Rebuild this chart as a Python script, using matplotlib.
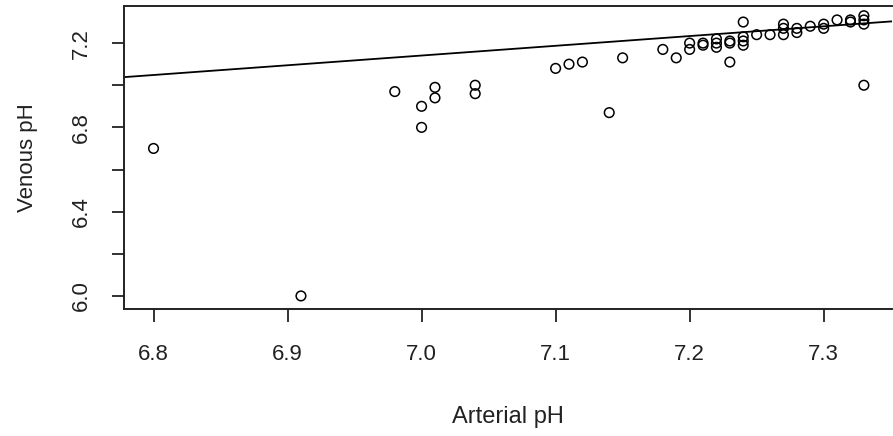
import numpy as np
import matplotlib
matplotlib.use("Agg")
import matplotlib.pyplot as plt

### arterial vs venous pH
arterial = [6.80, 6.91, 6.98, 7.00, 7.00, 7.01, 7.01, 7.04, 7.04, 7.10,
            7.11, 7.12, 7.14, 7.15, 7.18, 7.19, 7.20, 7.20, 7.21, 7.21,
            7.22, 7.22, 7.22, 7.23, 7.23, 7.23, 7.24, 7.24, 7.24, 7.24,
            7.25, 7.26, 7.27, 7.27, 7.27, 7.28, 7.28, 7.29, 7.30, 7.30,
            7.31, 7.32, 7.32, 7.33, 7.33, 7.33, 7.33]
venous = [6.70, 6.00, 6.97, 6.90, 6.80, 6.99, 6.94, 7.00, 6.96, 7.08,
          7.10, 7.11, 6.87, 7.13, 7.17, 7.13, 7.20, 7.17, 7.20, 7.19,
          7.22, 7.20, 7.18, 7.21, 7.20, 7.11, 7.30, 7.23, 7.21, 7.19,
          7.24, 7.24, 7.29, 7.27, 7.24, 7.27, 7.25, 7.28, 7.29, 7.27,
          7.31, 7.31, 7.30, 7.33, 7.31, 7.29, 7.00]

### reference line (intercept, slope)
line_a = 3.907
line_b = 0.462

xticks = [6.8, 6.9, 7.0, 7.1, 7.2, 7.3]
yticks = [6.0, 6.2, 6.4, 6.6, 6.8, 7.0, 7.2]
ylabels = ['6.0', '', '6.4', '', '6.8', '', '7.2']

plt.rcParams['font.family'] = ['Liberation Sans', 'DejaVu Sans']

fig = plt.figure(figsize=(8.93, 4.36), dpi=100)
ax = fig.add_axes([0.1389, 0.2913, 0.8600, 0.6949])

ax.scatter(arterial, venous, s=48, facecolors='none', edgecolors='black', linewidths=1.1)

xmin, xmax = 6.778, 7.351
ax.set_xlim(xmin, xmax)
ax.set_ylim(5.938, 7.376)
xs = np.array([xmin, xmax])
ax.plot(xs, line_a + line_b * xs, color='black', lw=1.3)

ax.set_xticks(xticks)
ax.set_xticklabels(['%.1f' % v for v in xticks])
ax.set_yticks(yticks)
ax.set_yticklabels(ylabels, rotation=90, va='center')
ax.tick_params(length=9, width=1.3, labelsize=16, color='#222222', labelcolor='#222222')
ax.tick_params(axis='x', pad=16)
ax.tick_params(axis='y', pad=14)

for s in ax.spines.values():
    s.set_linewidth(1.4)
    s.set_color('#222222')
ax.spines['right'].set_visible(False)

ax.set_xlabel('Arterial pH', fontsize=17, labelpad=30, color='#222222')
ax.set_ylabel('Venous pH', fontsize=16, labelpad=24, color='#222222')

fig.savefig('out.png', dpi=100)
